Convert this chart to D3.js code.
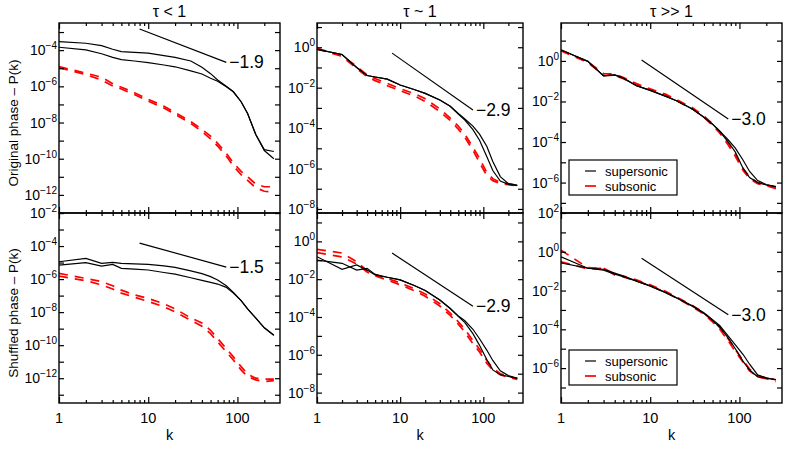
<!DOCTYPE html>
<html>
<head>
<meta charset="utf-8">
<script src="https://cdn.jsdelivr.net/npm/d3@7"></script>
<style>
  body { margin: 0; background: #fff; }
  text { font-family: "Liberation Sans", Arial, sans-serif; fill: #000; }
</style>
</head>
<body>
<svg id="chart" width="789" height="451"></svg>
<script>
// wavenumbers shared by every curve
const K = [1, 2, 3, 4, 5, 7, 10, 15, 20, 30, 40, 50, 60, 75, 90, 110, 130, 160, 200, 256];

// log10 P(k), two runs per group: [run1, run2]
const origLowSup = [
	[-3.53, -3.62, -3.75, -3.95, -4.08, -4.12, -4.17, -4.30, -4.40, -4.60, -4.95, -5.30, -5.65, -6.00, -6.30, -6.85, -7.50, -8.65, -9.50, -9.60],
	[-3.84, -3.99, -4.20, -4.40, -4.52, -4.60, -4.69, -4.82, -4.92, -5.15, -5.32, -5.55, -5.72, -6.02, -6.30, -6.85, -7.50, -8.65, -9.55, -10.0]];
const origLowSub = [
	[-4.91, -5.27, -5.50, -5.85, -6.05, -6.35, -6.72, -7.10, -7.45, -7.95, -8.38, -8.75, -9.15, -9.70, -10.23, -10.70, -11.00, -11.40, -11.55, -11.55],
	[-4.97, -5.35, -5.65, -5.98, -6.15, -6.45, -6.82, -7.20, -7.55, -8.05, -8.50, -8.90, -9.30, -9.85, -10.40, -10.88, -11.20, -11.60, -11.80, -11.85]];
const origMidSup = [
	[-0.10, -0.36, -1.00, -1.40, -1.47, -1.58, -1.87, -2.10, -2.28, -2.61, -2.92, -3.28, -3.55, -3.90, -4.30, -4.90, -5.65, -6.40, -6.75, -6.82],
	[-0.10, -0.36, -1.00, -1.40, -1.47, -1.58, -1.87, -2.10, -2.28, -2.61, -2.92, -3.30, -3.60, -4.08, -4.60, -5.40, -6.10, -6.62, -6.78, -6.85]];
const origMidSub = [
	[-0.05, -0.42, -0.95, -1.37, -1.55, -1.79, -2.05, -2.30, -2.55, -3.05, -3.50, -3.90, -4.30, -4.95, -5.50, -6.20, -6.50, -6.70, -6.75, -6.85],
	[-0.08, -0.45, -1.05, -1.45, -1.65, -1.90, -2.15, -2.42, -2.68, -3.18, -3.62, -4.05, -4.45, -5.10, -5.70, -6.35, -6.60, -6.75, -6.80, -6.85]];
const origHighSup = [
	[0.54, -0.02, -0.74, -0.69, -0.85, -1.22, -1.45, -1.75, -1.98, -2.38, -2.78, -3.12, -3.45, -3.90, -4.30, -4.90, -5.45, -5.90, -6.10, -6.20],
	[0.54, -0.02, -0.74, -0.69, -0.85, -1.22, -1.45, -1.75, -1.98, -2.38, -2.78, -3.12, -3.47, -4.00, -4.50, -5.30, -5.75, -6.00, -6.12, -6.20]];
const origHighSub = [
	[0.54, -0.05, -0.62, -0.65, -0.82, -1.12, -1.38, -1.65, -1.92, -2.32, -2.72, -3.10, -3.48, -4.05, -4.60, -5.30, -5.72, -6.00, -6.12, -6.25],
	[0.50, -0.08, -0.70, -0.72, -0.88, -1.18, -1.42, -1.70, -1.98, -2.38, -2.78, -3.18, -3.55, -4.15, -4.70, -5.40, -5.80, -6.05, -6.15, -6.30]];

const shufLowSup = [
	[-4.95, -4.75, -5.05, -4.99, -5.05, -5.08, -5.11, -5.20, -5.29, -5.50, -5.67, -5.85, -6.05, -6.40, -6.80, -7.30, -7.80, -8.35, -8.95, -9.40],
	[-5.15, -5.01, -5.21, -5.11, -5.35, -5.40, -5.45, -5.60, -5.70, -5.92, -6.08, -6.20, -6.30, -6.50, -6.85, -7.30, -7.80, -8.35, -8.95, -9.40]];
const shufLowSub = [
	[-5.65, -5.96, -6.15, -6.40, -6.67, -6.95, -7.17, -7.50, -7.80, -8.35, -8.65, -9.10, -9.60, -10.20, -10.71, -11.30, -11.75, -12.00, -12.05, -12.05],
	[-5.82, -6.10, -6.35, -6.60, -6.85, -7.10, -7.35, -7.68, -7.98, -8.50, -8.85, -9.30, -9.80, -10.40, -10.90, -11.50, -11.90, -12.10, -12.20, -12.15]];
const shufMidSup = [
	[-0.81, -1.48, -1.25, -1.52, -1.78, -1.90, -2.04, -2.35, -2.60, -3.10, -3.55, -3.95, -4.20, -4.65, -5.15, -5.75, -6.30, -6.85, -7.10, -7.25],
	[-0.99, -1.16, -1.52, -1.43, -1.75, -1.90, -2.04, -2.35, -2.60, -3.10, -3.55, -3.97, -4.30, -4.88, -5.50, -6.25, -6.80, -7.05, -7.15, -7.25]];
const shufMidSub = [
	[-0.42, -0.62, -1.08, -1.55, -1.75, -1.96, -2.20, -2.52, -2.78, -3.30, -3.80, -4.25, -4.65, -5.25, -5.70, -6.30, -6.70, -7.00, -7.15, -7.25],
	[-0.60, -0.82, -1.20, -1.62, -1.82, -2.05, -2.30, -2.62, -2.90, -3.42, -3.92, -4.38, -4.80, -5.42, -5.85, -6.45, -6.80, -7.05, -7.20, -7.30]];
const shufHighSup = [
	[-0.26, -0.85, -0.90, -1.10, -1.25, -1.50, -1.75, -2.10, -2.38, -2.80, -3.15, -3.50, -3.80, -4.35, -4.80, -5.30, -5.80, -6.35, -6.50, -6.60],
	[-0.57, -0.85, -0.95, -1.15, -1.28, -1.52, -1.77, -2.12, -2.40, -2.82, -3.18, -3.55, -3.88, -4.45, -5.00, -5.65, -6.10, -6.45, -6.52, -6.60]];
const shufHighSub = [
	[0.08, -0.82, -0.85, -1.15, -1.25, -1.45, -1.70, -2.05, -2.35, -2.78, -3.15, -3.55, -3.90, -4.50, -5.05, -5.60, -6.05, -6.40, -6.50, -6.60],
	[-0.52, -0.88, -0.85, -1.20, -1.30, -1.50, -1.75, -2.10, -2.40, -2.85, -3.22, -3.62, -3.98, -4.60, -5.15, -5.70, -6.15, -6.45, -6.55, -6.70]];

const titles = ["τ < 1", "τ ~ 1", "τ >> 1"];
const rowLabels = ["Original phase – P(k)", "Shuffled phase – P(k)"];
const legendNames = ["supersonic", "subsonic"];

// reference power laws drawn from k=8 to k=75
const slopeK = [8, 75];
const slopeValues = [[-1.9, -2.9, -3.0], [-1.5, -2.9, -3.0]];
const slopeStart = [[-2.83, -0.29, 0.05], [-3.82, -0.62, -0.33]];

// axis ranges as log10 exponents
const xDomain = [1, 300];
const yDomains = [
	[[-13, -2.5], [-8.2, 1.2], [-7.5, 1.87]],
	[[-13.5, -2], [-8.55, 1.5], [-7.8, 2]]];

const sup = [[origLowSup, origMidSup, origHighSup], [shufLowSup, shufMidSup, shufHighSup]];
const sub = [[origLowSub, origMidSub, origHighSub], [shufLowSub, shufMidSub, shufHighSub]];

const svg = d3.select("#chart");
const defs = svg.append("defs");

const cols = [[59, 280], [317, 523], [561, 782]];
const rows = [[23, 213], [213, 403]];

const fmtMinus = (v, digits) => (v < 0 ? "\u2212" : "") + Math.abs(v).toFixed(digits);

function drawPanel(r, c) {
	const [x0, x1] = cols[c];
	const [y0, y1] = rows[r];
	const x = d3.scaleLog().domain(xDomain).range([x0, x1]);
	const y = d3.scaleLog().domain(yDomains[r][c].map(e => Math.pow(10, e))).range([y1, y0]);

	const clipId = "clip-" + r + "-" + c;
	defs.append("clipPath").attr("id", clipId)
		.append("rect").attr("x", x0).attr("y", y0).attr("width", x1 - x0).attr("height", y1 - y0);

	const g = svg.append("g");
	const plot = g.append("g").attr("clip-path", "url(#" + clipId + ")");

	const line = d3.line()
		.x((d, i) => x(K[i]))
		.y(d => y(Math.pow(10, d)));

	sub[r][c].forEach(vals => {
		plot.append("path")
			.attr("d", line(vals))
			.attr("fill", "none")
			.attr("stroke", "#ff0000")
			.attr("stroke-width", 1.7)
			.attr("stroke-dasharray", "9,7");
	});
	sup[r][c].forEach(vals => {
		plot.append("path")
			.attr("d", line(vals))
			.attr("fill", "none")
			.attr("stroke", "#000")
			.attr("stroke-width", 1.2);
	});

	// power-law guide
	const s = slopeValues[r][c];
	const p0 = slopeStart[r][c];
	const guide = slopeK.map(k => [k, p0 + s * Math.log10(k / slopeK[0])]);
	g.append("line")
		.attr("x1", x(guide[0][0])).attr("y1", y(Math.pow(10, guide[0][1])))
		.attr("x2", x(guide[1][0])).attr("y2", y(Math.pow(10, guide[1][1])))
		.attr("stroke", "#000").attr("stroke-width", 1.2);
	g.append("text")
		.attr("x", x(guide[1][0]) + 3)
		.attr("y", y(Math.pow(10, guide[1][1])) + 6)
		.attr("font-size", 17.5)
		.text(fmtMinus(s, 1));

	// ticks, pointing inward on all four sides
	const xMajor = [1, 10, 100];
	const xMinor = [2, 3, 4, 5, 6, 7, 8, 9, 20, 30, 40, 50, 60, 70, 80, 90, 200];
	const lo = Math.ceil(yDomains[r][c][0]), hi = Math.floor(yDomains[r][c][1]);
	const yMajor = d3.range(lo, hi + 1).map(e => Math.pow(10, e));

	const addAxis = (axis, transform) => {
		const a = g.append("g").attr("transform", transform).call(axis);
		a.select(".domain").remove();
		a.selectAll("line").attr("stroke-width", 1.2);
		a.selectAll("text").remove();
	};
	addAxis(d3.axisBottom(x).tickValues(xMajor).tickSize(-6), "translate(0," + y1 + ")");
	addAxis(d3.axisBottom(x).tickValues(xMinor).tickSize(-3), "translate(0," + y1 + ")");
	addAxis(d3.axisTop(x).tickValues(xMajor).tickSize(-6), "translate(0," + y0 + ")");
	addAxis(d3.axisTop(x).tickValues(xMinor).tickSize(-3), "translate(0," + y0 + ")");
	addAxis(d3.axisLeft(y).tickValues(yMajor).tickSize(-5), "translate(" + x0 + ",0)");
	addAxis(d3.axisRight(y).tickValues(yMajor).tickSize(-5), "translate(" + x1 + ",0)");

	// y labels at even decades
	d3.range(lo, hi + 1).filter(e => e % 2 === 0).forEach(e => {
		const t = g.append("text")
			.attr("x", x0 - 2)
			.attr("y", y(Math.pow(10, e)) + 5)
			.attr("text-anchor", "end")
			.attr("font-size", 14);
		t.append("tspan").text("10");
		t.append("tspan").attr("dy", -6).attr("font-size", 10).text(fmtMinus(e, 0));
	});

	g.append("rect")
		.attr("x", x0).attr("y", y0)
		.attr("width", x1 - x0).attr("height", y1 - y0)
		.attr("fill", "none").attr("stroke", "#000").attr("stroke-width", 1.4);

	if (r === 0) {
		g.append("text")
			.attr("x", (x0 + x1) / 2).attr("y", 17)
			.attr("text-anchor", "middle").attr("font-size", 16)
			.text(titles[c]);
	}
	if (r === 1) {
		xMajor.forEach(k => {
			g.append("text")
				.attr("x", x(k)).attr("y", y1 + 20)
				.attr("text-anchor", "middle").attr("font-size", 14.5)
				.text(k);
		});
		g.append("text")
			.attr("x", (x0 + x1) / 2).attr("y", y1 + 37)
			.attr("text-anchor", "middle").attr("font-size", 14.5)
			.text("k");
	}
	if (c === 0) {
		g.append("text")
			.attr("transform", "translate(18," + ((y0 + y1) / 2 + 5) + ") rotate(-90)")
			.attr("text-anchor", "middle").attr("font-size", 13.5)
			.text(rowLabels[r]);
	}
	if (c === 2) {
		const lx = 569, ly = y0 + 137;
		const leg = g.append("g");
		leg.append("rect")
			.attr("x", lx).attr("y", ly).attr("width", 108).attr("height", 35)
			.attr("fill", "#fff").attr("stroke", "#000").attr("stroke-width", 1.2);
		legendNames.forEach((name, i) => {
			const ey = ly + 11 + i * 15;
			leg.append("line")
				.attr("x1", lx + 16).attr("x2", lx + 27)
				.attr("y1", ey).attr("y2", ey)
				.attr("stroke", i === 0 ? "#000" : "#ff0000")
				.attr("stroke-width", i === 0 ? 1.2 : 1.7);
			leg.append("text")
				.attr("x", lx + 36).attr("y", ey + 4.5)
				.attr("font-size", 13)
				.text(name);
		});
	}
}

rows.forEach((row, r) => cols.forEach((col, c) => drawPanel(r, c)));
</script>
</body>
</html>
